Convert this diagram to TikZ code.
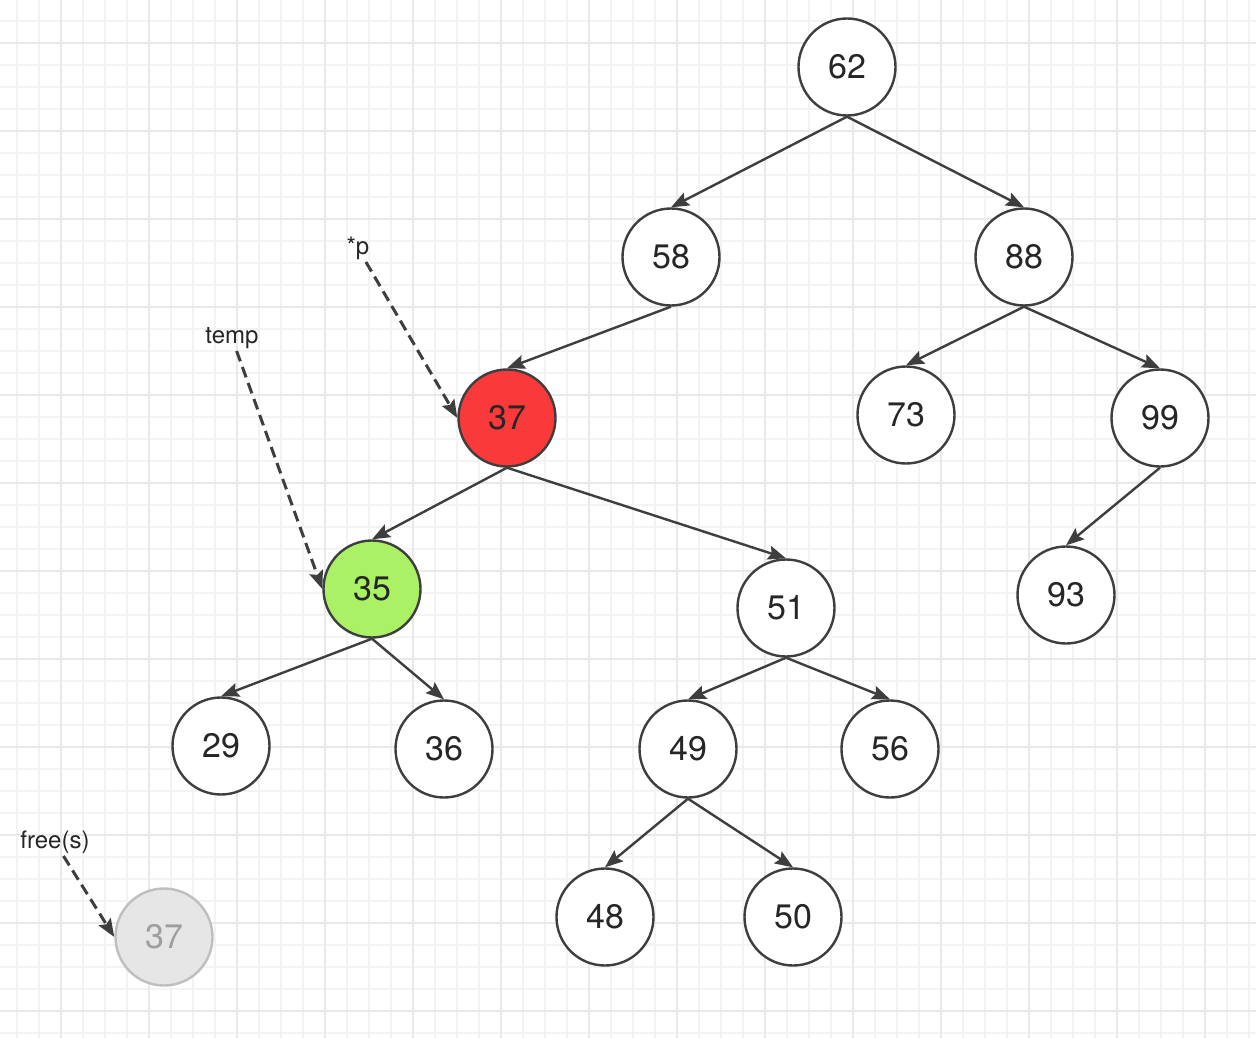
\documentclass[tikz,border=0pt]{standalone}
\usepackage{fontspec}
\setmainfont{TeX Gyre Heros}
\usetikzlibrary{arrows.meta}
\definecolor{inkgrey}{HTML}{3E3E3E}
\definecolor{gridminor}{HTML}{F2F3F3}
\definecolor{gridmajor}{HTML}{E8E9E9}
\definecolor{hotred}{HTML}{FA3A3A}
\definecolor{limegreen}{HTML}{ABF165}
\definecolor{ghostfill}{HTML}{E6E6E6}
\definecolor{ghostline}{HTML}{BFBFBF}
\definecolor{ghosttext}{HTML}{9E9E9E}
\tikzset{
  key/.style     = {circle, draw=inkgrey, line width=2.4pt, fill=white, minimum size=97pt,
                    inner sep=0pt, text=black!85, font=\fontsize{34}{40}\selectfont},
  cur/.style     = {key, fill=hotred},
  tmp/.style     = {key, fill=limegreen},
  freed/.style   = {key, draw=ghostline, fill=ghostfill, text=ghosttext},
  pointer/.style = {inner sep=2pt, anchor=south, text=black!85,
                    font=\fontsize{24}{28}\selectfont},
  child/.style   = {-{Stealth[length=18pt, width=14pt, inset=3pt]}, draw=inkgrey, line width=2.4pt},
  ref/.style     = {child, dash pattern=on 11pt off 6pt, line width=3pt},
  minorgrid/.style = {draw=gridminor, line width=1.2pt},
  majorgrid/.style = {draw=gridmajor, line width=1.4pt},
}

\begin{document}
\begin{tikzpicture}[x=1pt, y=-1pt]
  \useasboundingbox (0,0) rectangle (1256,1038);
  \fill[white] (0,0) rectangle (1256,1038);
  % paper grid
  \foreach \gx in {17,39,...,1256} \draw[minorgrid] (\gx,0) -- (\gx,1038);
  \foreach \gy in {21,43,...,1038} \draw[minorgrid] (0,\gy) -- (1256,\gy);
  \foreach \gx in {61,149,...,1256} \draw[majorgrid] (\gx,0) -- (\gx,1038);
  \foreach \gy in {43,131,...,1038} \draw[majorgrid] (0,\gy) -- (1256,\gy);

  % tree
  \node[key] (n62) at (847,67)  {62};
  \node[key] (n58) at (671,257) {58};
  \node[key] (n88) at (1024,257) {88};
  \node[cur] (n37) at (507,418) {37};
  \node[key] (n73) at (906,415) {73};
  \node[key] (n99) at (1160,418) {99};
  \node[tmp] (n35) at (372,589) {35};
  \node[key] (n51) at (786,608) {51};
  \node[key] (n93) at (1066,595) {93};
  \node[key] (n29) at (221,746) {29};
  \node[key] (n36) at (444,749) {36};
  \node[key] (n49) at (688,749) {49};
  \node[key] (n56) at (890,749) {56};
  \node[key] (n48) at (605,917) {48};
  \node[key] (n50) at (793,917) {50};
  \node[freed] (gone) at (164,937) {37};

  \draw[child] (n62.south) -- (n58.north); \draw[child] (n62.south) -- (n88.north);
  \draw[child] (n58.south) -- (n37.north);
  \draw[child] (n88.south) -- (n73.north); \draw[child] (n88.south) -- (n99.north);
  \draw[child] (n99.south) -- (n93.north);
  \draw[child] (n37.south) -- (n35.north); \draw[child] (n37.south) -- (n51.north);
  \draw[child] (n35.south) -- (n29.north); \draw[child] (n35.south) -- (n36.north);
  \draw[child] (n51.south) -- (n49.north); \draw[child] (n51.south) -- (n56.north);
  \draw[child] (n49.south) -- (n48.north); \draw[child] (n49.south) -- (n50.north);

  % pointers
  \node[pointer] (p)    at (358,262) {*p};
  \node[pointer] (temp) at (232,351) {temp};
  \node[pointer] (fs)   at (55,856)  {free(s)};
  \draw[ref] (p) -- (n37.west);
  \draw[ref] (temp) -- (n35.west);
  \draw[ref] (fs) -- (gone.west);
\end{tikzpicture}
\end{document}
